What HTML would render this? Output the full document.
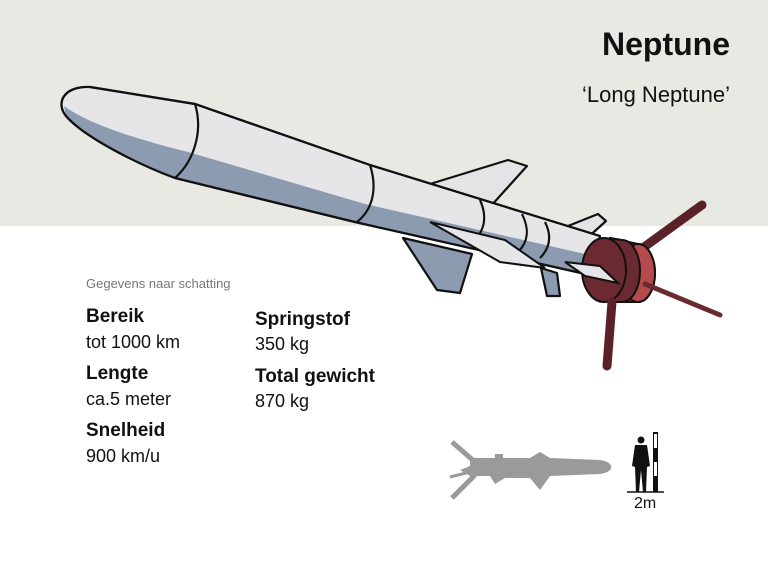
<!DOCTYPE html>
<html><head><meta charset="utf-8"><style>
body{margin:0;width:768px;height:576px;overflow:hidden;background:#fff;font-family:"Liberation Sans",sans-serif;position:relative}
.t{position:absolute;color:#111;white-space:nowrap}
.b{font-weight:bold;font-size:19px}
.n{font-size:18px}
</style></head><body>
<svg width="768" height="576" style="position:absolute;left:0;top:0">
<rect x="0" y="0" width="768" height="226" fill="#e9e9e4"/>
<g stroke="#111" stroke-width="2.2" stroke-linejoin="round">
<polygon points="430,184 508,160 527,166 490,207" fill="#e4e4e6"/>
<polygon points="403,238 472,254 460,293 437,290" fill="#8c9bb0"/>
<polygon points="558,230 598,214 606,221 585,240" fill="#e4e4e6"/>
<polygon points="541,268 557,273 560,296 547,296" fill="#8c9bb0"/>
<path d="M600,236 L370,165 L195,104 L90,87 C62,86 56,104 66,116 C85,138 140,165 175,178 L355,222 L590,275 Z" fill="#e6e6e8"/>
</g>
<path d="M66,116 C85,138 140,165 175,178 L355,222 L590,275 L594,256 L365,204 L188,152 C140,140 90,125 64,106 Z" fill="#8c9bb0"/>
<g fill="none" stroke="#111" stroke-width="2.2">
<path d="M600,236 L370,165 L195,104 L90,87 C62,86 56,104 66,116 C85,138 140,165 175,178 L355,222 L590,275"/>
<path d="M195,104 C203,130 195,160 175,178"/>
<path d="M370,165 C378,190 372,210 357,222"/>
<path d="M480,200 C488,218 484,232 472,242"/>
<path d="M522,214 C530,230 528,242 518,252"/>
<path d="M545,222 C552,236 550,248 540,258"/>
</g>
<polygon points="430,222 505,240 545,268 500,262" fill="#e6e6e8" stroke="#111" stroke-width="2"/>
<g stroke="#111" stroke-width="2">
<line x1="640" y1="250" x2="702" y2="205" stroke="#5a2228" stroke-width="9" stroke-linecap="round"/>
<path d="M610,238 L638,244 A17,29 0 0 1 638,302 L610,302 Z" fill="#b54a4c"/>
<ellipse cx="638" cy="273" rx="17" ry="29" fill="#b54a4c"/>
<path d="M610,238 L622,240 A18,31 0 0 1 622,302 L610,302 Z" fill="#6b2a31"/>
<ellipse cx="604" cy="270" rx="22" ry="32" fill="#6b2a31"/>
<line x1="612" y1="302" x2="607" y2="366" stroke="#5a2228" stroke-width="9" stroke-linecap="round"/>
<line x1="645" y1="284" x2="720" y2="315" stroke="#6b2a31" stroke-width="5" stroke-linecap="round"/>
<polygon points="565,262 600,266 618,283 585,276" fill="#e6e6e8"/>
</g>
<g fill="#9a9a9a">
<path d="M470,458 L530,458 L540,452 L550,458 L600,460 C615,462 615,472 600,474 L550,476 L540,490 L530,478 L505,478 L495,484 L490,476 L470,476 L460,470 L470,466 Z"/>
<rect x="495" y="454" width="8" height="8"/>
<line x1="452" y1="442" x2="475" y2="462" stroke="#9a9a9a" stroke-width="5"/>
<line x1="452" y1="498" x2="475" y2="475" stroke="#9a9a9a" stroke-width="5"/>
<line x1="450" y1="477" x2="470" y2="472" stroke="#9a9a9a" stroke-width="3"/>
</g>
<g fill="#111">
<circle cx="641" cy="440" r="3.5"/>
<path d="M635,445 L647,445 L650,466 L647,467 L646,492 L643,492 L641,470 L639,492 L636,492 L635,467 L632,466 Z"/>
</g>
<rect x="653" y="432" width="5" height="60" fill="#111"/>
<rect x="654" y="434" width="3" height="14" fill="#fff"/>
<rect x="654" y="462" width="3" height="14" fill="#fff"/>
<line x1="627" y1="492" x2="664" y2="492" stroke="#111" stroke-width="1.5"/>
</svg>
<div class="t" style="right:38px;top:26px;font-size:32px;font-weight:bold">Neptune</div>
<div class="t" style="right:38px;top:82px;font-size:22px">‘Long Neptune’</div>
<div class="t" style="left:86px;top:276px;font-size:13px;color:#777">Gegevens naar schatting</div>
<div class="t b" style="left:86px;top:306px">Bereik</div>
<div class="t n" style="left:86px;top:332px">tot 1000 km</div>
<div class="t b" style="left:86px;top:363px">Lengte</div>
<div class="t n" style="left:86px;top:389px">ca.5 meter</div>
<div class="t b" style="left:86px;top:420px">Snelheid</div>
<div class="t n" style="left:86px;top:446px">900 km/u</div>
<div class="t b" style="left:255px;top:309px">Springstof</div>
<div class="t n" style="left:255px;top:334px">350 kg</div>
<div class="t b" style="left:255px;top:366px">Total gewicht</div>
<div class="t n" style="left:255px;top:391px">870 kg</div>
<div class="t" style="left:634px;top:495px;font-size:16px">2m</div>
</body></html>
